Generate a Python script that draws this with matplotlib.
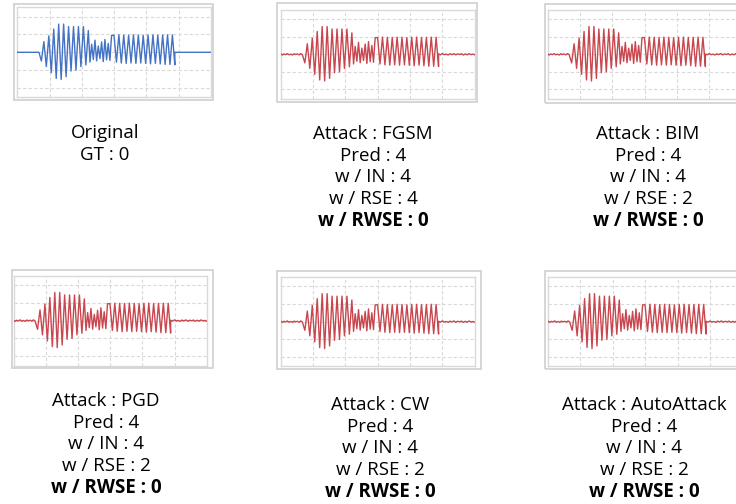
import numpy as np
import matplotlib.pyplot as plt
from matplotlib.patches import Rectangle

plt.rcParams['font.family'] = ['Open Sans', 'DejaVu Sans']

W, H = 736, 504

# waveform extrema (grid units, 1 unit = one gridline step)
part_a_troughs = [-0.49, -0.80, -1.14, -1.46, -1.52, -1.37, -1.05, -1.00, -0.80, -0.71]
part_a_peaks = [0.60, 0.92, 1.30, 1.58, 1.58, 1.44, 1.44, 1.44, 1.44, 1.22]
part_b_troughs = [-0.55, -0.40, -0.48, -0.35, -0.52, -0.42, -0.45]
part_b_peaks = [0.45, 0.68, 0.35, 0.58, 0.72, 0.50, 0.95]
part_c_peaks = [0.95, 0.98, 0.97, 0.96, 0.98, 0.97, 0.95, 0.97, 0.98, 0.96, 0.97, 0.98, 0.97]
part_c_troughs = [-0.55, -0.60, -0.62, -0.60, -0.62, -0.60, -0.62, -0.65, -0.62, -0.65, -0.68, -0.68, -0.70]

# time where each part begins / ends (grid units on x, 0..6)
part_edges = [0.67, 2.20, 2.92, 4.88]

# small jitter visible on the flat parts of the attacked signals
noise_left = [0.03, -0.04, 0.02, -0.02, 0.04, -0.03, 0.01, -0.04, 0.03, -0.01, 0.02, -0.03, 0.04, -0.02]
noise_right = [0.02, -0.03, 0.04, -0.02, 0.01, -0.04, 0.03, -0.02, 0.04, -0.03, 0.02, -0.01,
               0.03, -0.04, 0.02, -0.03, 0.04, -0.02, 0.01, -0.03]

# panel texts
titles = ['Original', 'Attack : FGSM', 'Attack : BIM', 'Attack : PGD', 'Attack : CW', 'Attack : AutoAttack']
gt_label = 'GT : 0'
pred = [None, 4, 4, 4, 4, 4]
with_in = [None, 4, 4, 4, 4, 4]
with_rse = [None, 4, 2, 2, 2, 2]
with_rwse = [None, 0, 0, 0, 0, 0]

# panel layout in pixels: outer frame (l, t, r, b), plot area (l, t, r, b), text centre x, first text line y
layout = [
    ((14, 4, 213, 100), (17.3, 7.3, 211, 97.3), 105, 133),
    ((277, 3, 477, 102), (280.7, 10, 474.8, 98.6), 373, 134),
    ((545, 4, 745, 103), (547.5, 10, 741.6, 98.6), 648, 134),
    ((12, 270, 213, 368), (13.5, 275.7, 206.7, 365.5), 106, 401),
    ((277, 271, 481, 369), (280.7, 277, 474.8, 366.3), 380, 405),
    ((545, 271, 745, 369), (548, 277, 742.4, 366.3), 644, 405),
]

blue = '#4472C4'
red = '#C8474E'
grid_c = '#D9D9D9'


def interleave(first, second):
    out = []
    for a, b in zip(first, second):
        out += [a, b]
    return out


def build_wave(noisy):
    xs, ys = [], []
    left = noise_left if noisy else [0.0, 0.0]
    right = noise_right if noisy else [0.0, 0.0]
    xs += list(np.linspace(0, part_edges[0], len(left)))
    ys += left
    parts = [interleave(part_a_troughs, part_a_peaks),
             interleave(part_b_troughs, part_b_peaks),
             interleave(part_c_peaks, part_c_troughs)]
    for i, vals in enumerate(parts):
        x = np.linspace(part_edges[i], part_edges[i + 1], len(vals) + 1)[1:]
        xs += list(x)
        ys += vals
    xs += list(np.linspace(part_edges[-1], 6, len(right)))
    ys += right
    return xs, ys


def fig_box(l, t, r, b):
    return [l / W, 1 - b / H, (r - l) / W, (b - t) / H]


fig = plt.figure(figsize=(W / 100, H / 100), dpi=100)

for i, (outer, inner, tx, ty) in enumerate(layout):
    ox = fig_box(*outer)
    fig.patches.append(Rectangle((ox[0], ox[1]), ox[2], ox[3], transform=fig.transFigure,
                                 fill=False, edgecolor='#CFCFCF', lw=1.2))
    ax = fig.add_axes(fig_box(*inner))
    xs, ys = build_wave(i > 0)
    ax.plot(xs, ys, color=blue if i == 0 else red, lw=1.0, zorder=3)
    ax.set_xlim(0, 6)
    ax.set_ylim(-2.52, 2.52)
    ax.set_xticks([1, 2, 3, 4, 5])
    ax.set_yticks([-2, -1, 0, 1, 2])
    ax.grid(True, color=grid_c, lw=0.8, ls=(0, (3, 2)))
    ax.tick_params(length=0, labelbottom=False, labelleft=False)
    for s in ax.spines.values():
        s.set_color(grid_c)
        s.set_linewidth(1.0)

    if i == 0:
        lines = [(titles[i], 'normal'), (gt_label, 'normal')]
    else:
        lines = [(titles[i], 'normal'),
                 (f'Pred : {pred[i]}', 'normal'),
                 (f'w / IN : {with_in[i]}', 'normal'),
                 (f'w / RSE : {with_rse[i]}', 'normal'),
                 (f'w / RWSE : {with_rwse[i]}', 'bold')]
    for k, (txt, wt) in enumerate(lines):
        fig.text(tx / W, 1 - (ty + k * 21.7) / H, txt, ha='center', va='center',
                 fontsize=13.5, fontweight=wt, color='black')

fig.savefig('out.png', dpi=100)
